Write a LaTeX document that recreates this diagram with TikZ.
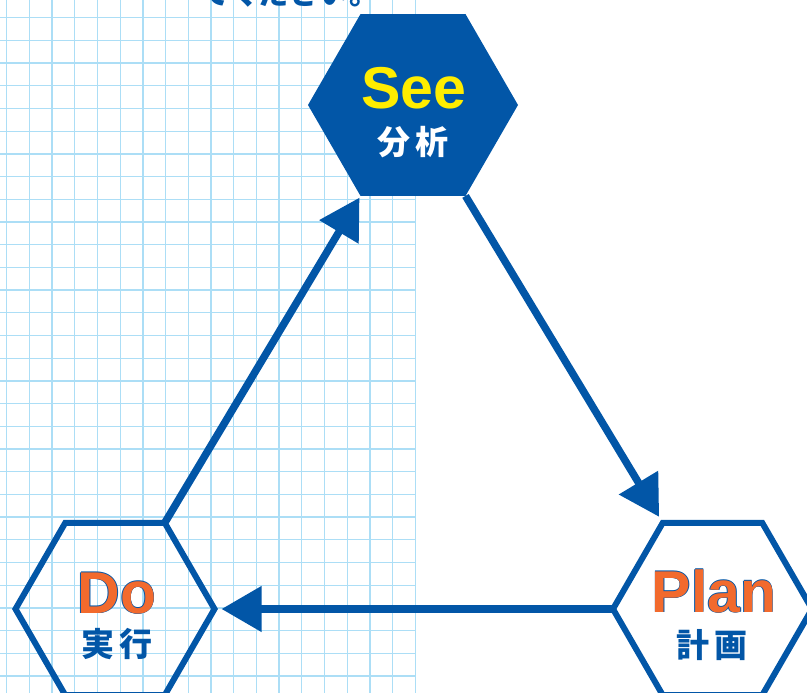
\documentclass[tikz,border=0pt]{standalone}
\usepackage{fontspec}
\setmainfont{Liberation Sans}
\newfontfamily\jpfont{Noto Sans CJK JP}
\usetikzlibrary{arrows.meta,shapes.geometric}
\definecolor{hexblue}{RGB}{2,86,167}
\definecolor{seeyellow}{RGB}{255,237,0}
\definecolor{dorange}{RGB}{242,106,45}
\definecolor{gridblue}{RGB}{172,222,246}
\pgfdeclarelayer{bg}
\pgfdeclarelayer{arr}
\pgfsetlayers{bg,arr,main}
\newcommand\olword[1]{%
  \makebox[0pt][l]{\color{hexblue}\kern-.7pt#1}%
  \makebox[0pt][l]{\color{hexblue}\kern.7pt#1}%
  \makebox[0pt][l]{\color{hexblue}\raisebox{.7pt}{#1}}%
  \makebox[0pt][l]{\color{hexblue}\raisebox{-.7pt}{#1}}%
  {\color{dorange}#1}}
\tikzset{
  gridline/.style={draw=gridblue, line width=1.3pt},
  hexbase/.style={regular polygon, regular polygon sides=6, inner sep=0pt, outer sep=0pt},
  hexfill/.style={hexbase, fill=hexblue, minimum size=210pt},
  hexline/.style={hexbase, draw=hexblue, line width=6pt, minimum size=199pt},
  bigtxt/.style={anchor=base, inner sep=0pt, font=\bfseries\fontsize{59}{59}\selectfont},
  jptxt/.style={anchor=base, inner sep=0pt, font=\jpfont\bfseries\fontsize{33}{33}\selectfont},
  flow/.style={draw=hexblue, line width=7.5pt, -{Triangle[length=40pt,width=44pt]}},
}
\begin{document}
\begin{tikzpicture}[x=1pt,y=-1pt]
\useasboundingbox (0,0) rectangle (807,693);
\begin{pgfonlayer}{bg}
  \begin{scope}
    \clip (0,0) rectangle (416,693);
    \foreach \i in {0,...,18} \draw[gridline] ({6.7+22.7*\i},0) -- ({6.7+22.7*\i},693);
    \foreach \j in {0,...,29} \draw[gridline] (0,{17.7+22.7*\j}) -- (415.3,{17.7+22.7*\j});
  \end{scope}
\end{pgfonlayer}
\begin{scope}
  \clip (0,0) rectangle (807,693);
  \node[anchor=base west, inner sep=0pt, text=hexblue, font=\jpfont\bfseries\fontsize{30}{30}\selectfont] (toptext) at (200,5) {てください。};
\end{scope}
\node[hexfill] (see) at (413,105) {};
\node[hexline] (do) at (115,609) {};
\node[hexline] (plan) at (712.5,609) {};
\begin{pgfonlayer}{arr}
  \draw[flow, shorten >=2pt] (do.60) -- (see.240);
  \draw[flow, shorten >=7pt] (see.300) -- (plan.120);
  \draw[flow, shorten >=7pt] (plan.180) -- (do.0);
\end{pgfonlayer}
\node[bigtxt, text=seeyellow] (seeT) at (413.5,109) {See};
\node[jptxt, text=white] (seeJ) at (413,154) {分\kern5pt析};
\node[bigtxt] (doT) at (117,613) {\olword{Do}};
\node[jptxt, text=hexblue] (doJ) at (117,656) {実\kern5pt行};
\node[bigtxt] (planT) at (714,612) {\olword{Plan}};
\node[jptxt, text=hexblue] (planJ) at (712,657) {計\kern5pt画};
\end{tikzpicture}
\end{document}
